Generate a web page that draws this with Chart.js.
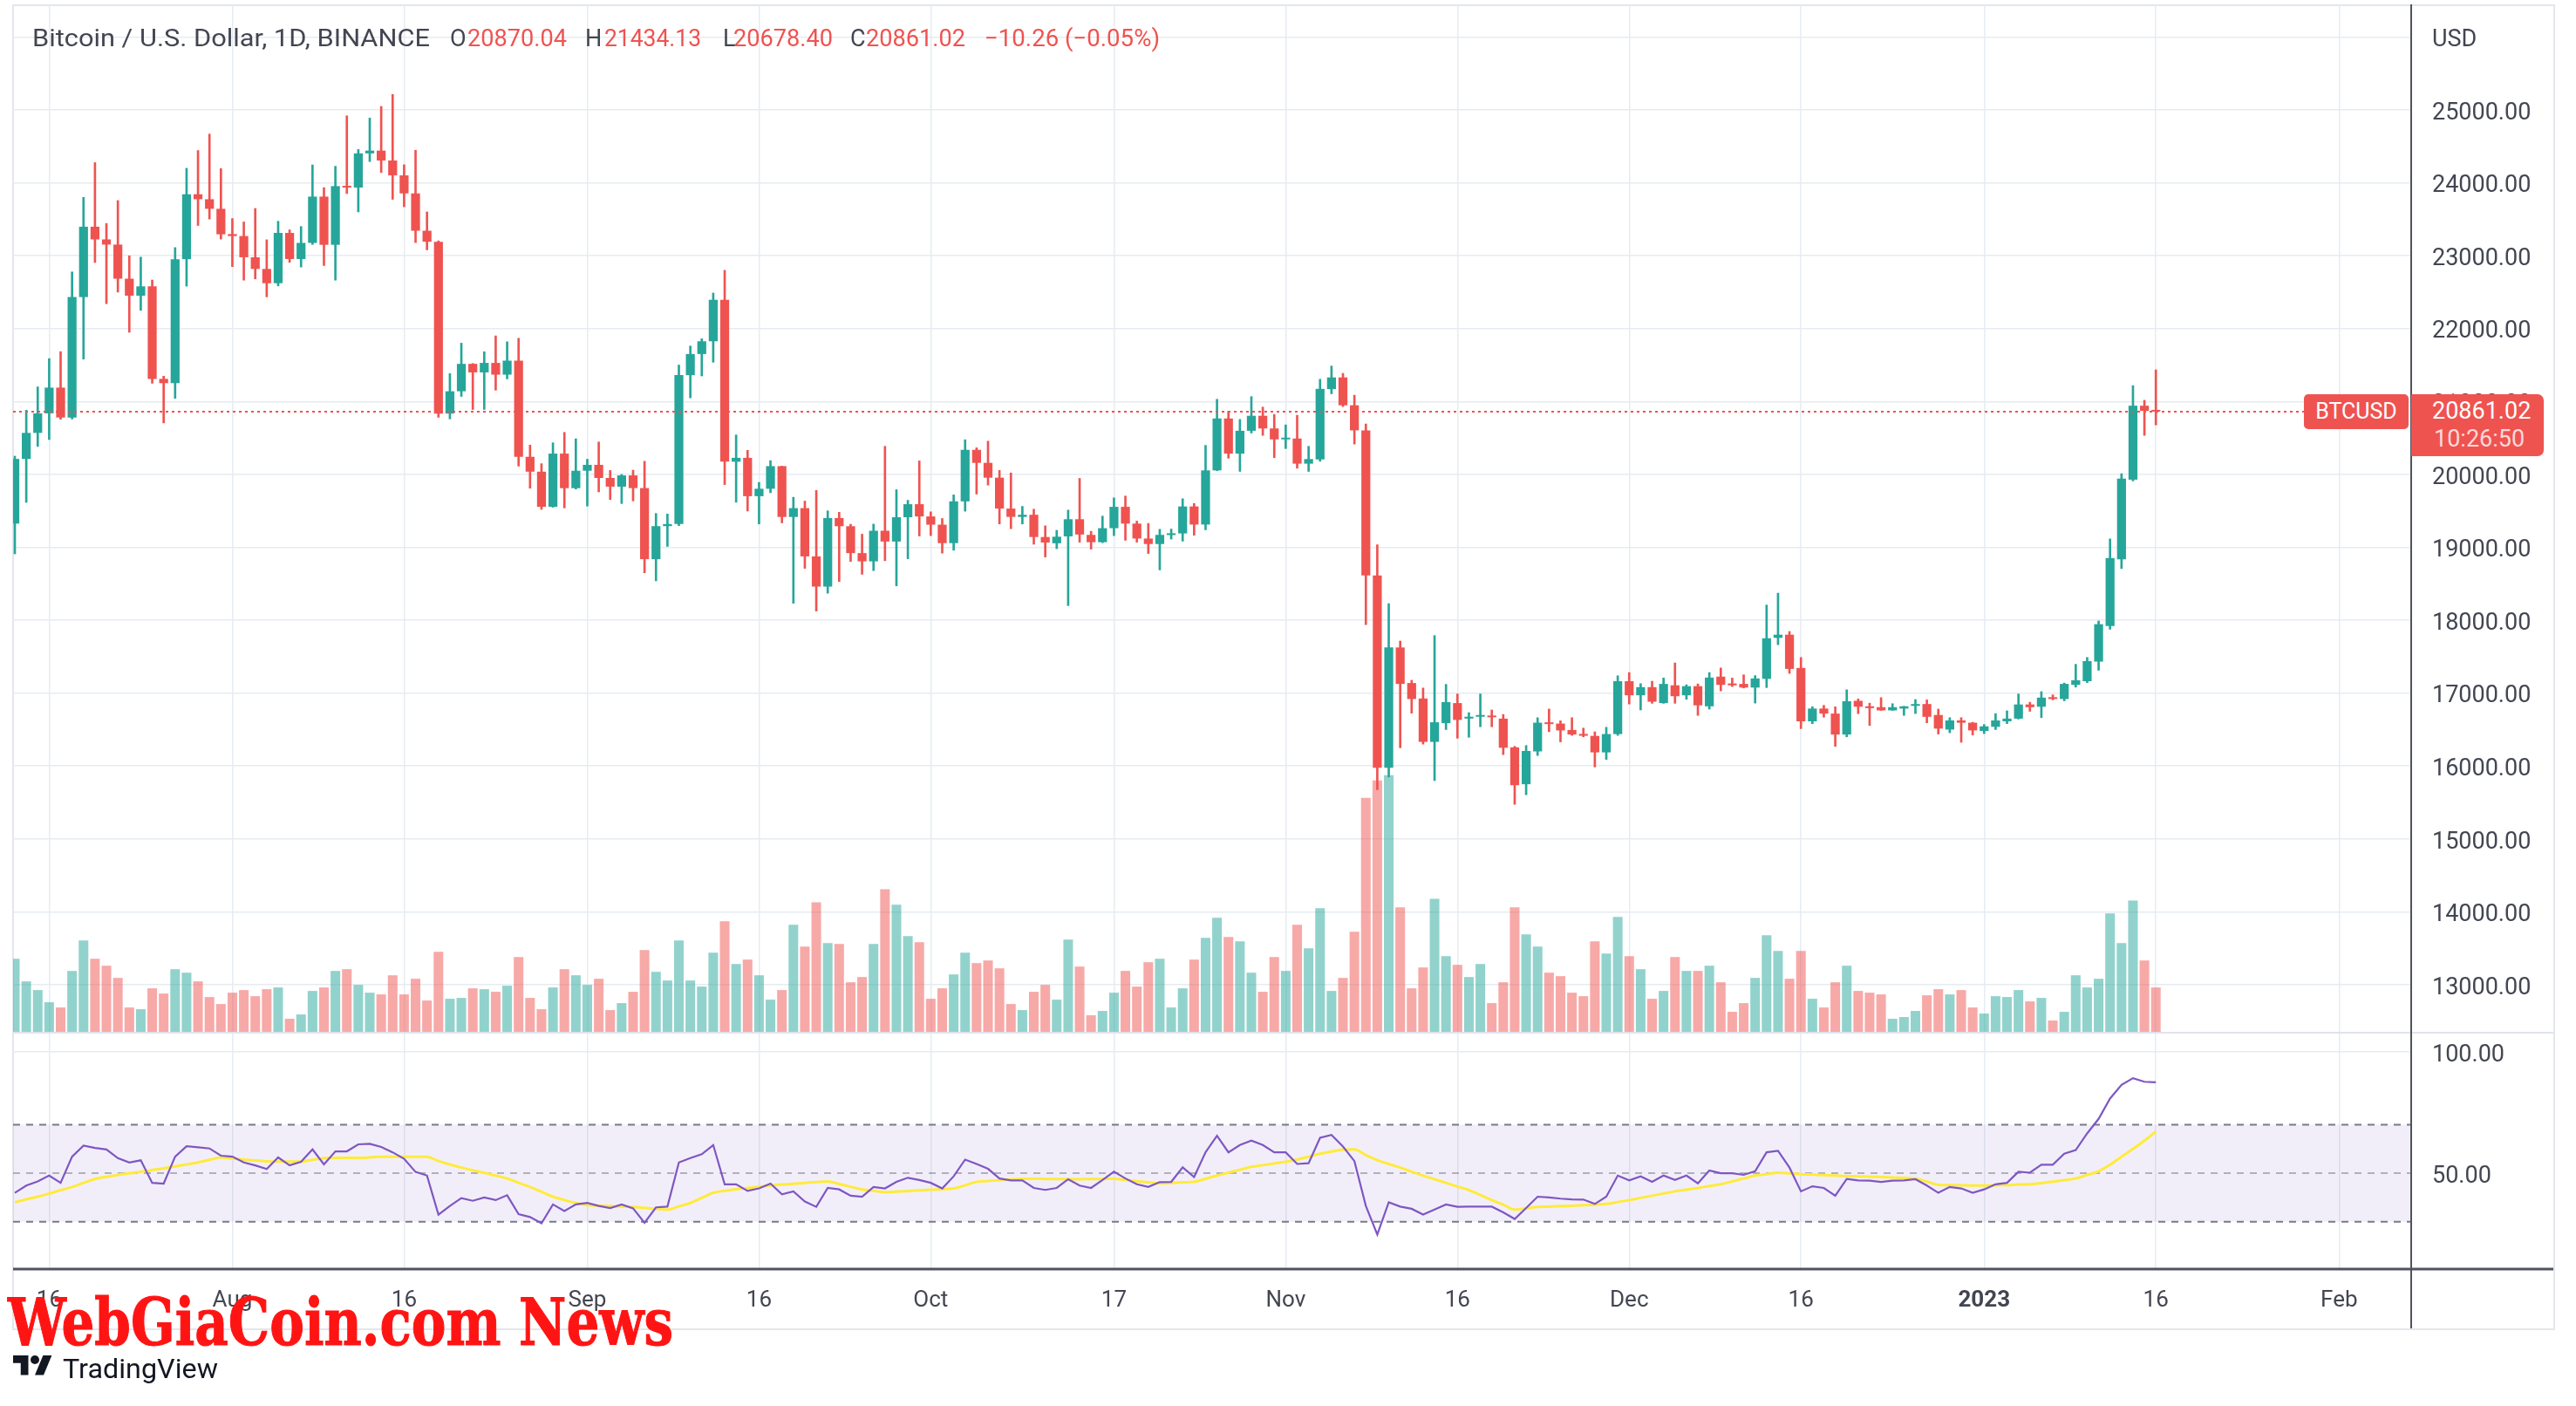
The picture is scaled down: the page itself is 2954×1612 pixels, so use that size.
<!DOCTYPE html>
<html>
<head>
<meta charset="utf-8">
<title>BTCUSD 1D</title>
<script src="https://cdn.jsdelivr.net/npm/chart.js@4.4.1/dist/chart.umd.min.js"></script>
<style>
  body { margin:0; width:2954px; height:1612px; background:#fff; position:relative; overflow:hidden; font-family:Roboto, "DejaVu Sans", sans-serif; }
  #frame { position:absolute; left:14px; top:5px; width:2912px; height:1516px; border:2px solid #e3e6ed; }
  canvas { position:absolute; left:0; }
  #priceCanvas { top:0; }
  #rsiCanvas { top:1183px; }
  .tl { position:absolute; top:31px; font-size:27px; line-height:27px; white-space:nowrap; color:#434651; transform-origin:left center; }
  .red { color:#ef5350; }
  #symTag { position:absolute; left:2642px; width:120px; height:40px; background:#ef5350; color:#fff; border-radius:5px; font-size:25px; line-height:40px; text-align:center; }
  #priceTag { position:absolute; left:2765px; width:152px; height:71px; background:#ef5350; border-radius:0 7px 7px 0; color:#fff; }
  #ptPrice { position:absolute; left:24px; top:3px; font-size:27px; line-height:32px; }
  #ptTime { position:absolute; left:26px; top:35px; font-size:27px; line-height:32px; color:rgba(255,255,255,0.78); }
  #wm { position:absolute; left:9px; top:1479px; font-family:"DejaVu Serif Condensed","DejaVu Serif",serif; font-weight:bold; font-size:74px; line-height:74px; color:#ff1414; -webkit-text-stroke:1px #ff1414; white-space:nowrap; transform-origin:left top; }
  #tvText { position:absolute; left:72px; top:1554px; font-size:31px; line-height:31px; color:#131722; white-space:nowrap; transform-origin:left top; }
</style>
</head>
<body>
<div id="frame"></div>
<canvas id="priceCanvas" width="2954" height="1183"></canvas>
<canvas id="rsiCanvas" width="2954" height="429"></canvas>

<span class="tl" id="tName" style="left:37px">Bitcoin / U.S. Dollar, 1D, BINANCE</span>
<span class="tl" style="left:516px">O</span><span class="tl red" id="vO" style="left:536px"></span>
<span class="tl" style="left:671px">H</span><span class="tl red" id="vH" style="left:693px"></span>
<span class="tl" style="left:829px">L</span><span class="tl red" id="vL" style="left:841px"></span>
<span class="tl" style="left:975px">C</span><span class="tl red" id="vC" style="left:993px"></span>
<span class="tl red" id="vChg" style="left:1129px"></span>

<div id="symTag">BTCUSD</div>
<div id="priceTag"><div id="ptPrice"></div><div id="ptTime">10:26:50</div></div>

<div id="wm">WebGiaCoin.com News</div>
<svg width="45" height="35" viewBox="0 0 36 28" style="position:absolute;left:15px;top:1549px">
  <path d="M14 22H7V11H0V4h14v18z" fill="#131722"/>
  <circle cx="20" cy="8" r="4" fill="#131722"/>
  <path d="M28 22h-8l7.5-18h8L28 22z" fill="#131722"/>
</svg>
<div id="tvText">TradingView</div>

<script>
// daily candles, Binance BTCUSD, index 0 = 2022-07-13
const startDate = '2022-07-13';

const open = [
  19325, 20212, 20569, 20837, 21190, 20780, 22432, 23397, 23223, 23152,
  22684, 22451, 22579, 21310, 21251, 22952, 23842, 23774, 23643, 23296,
  23269, 22978, 22818, 22622, 23312, 22954, 23175, 23810, 23149, 23954,
  23934, 24403, 24441, 24305, 24101, 23854, 23342, 23191, 20834, 21140,
  21516, 21399, 21529, 21368, 21560, 20241, 20037, 19555, 20285, 19811,
  20050, 20131, 19951, 19832, 19986, 19812, 18837, 19290, 19319, 21361,
  21651, 21826, 22395, 20174, 20227, 19701, 19803, 20113, 19416, 19537,
  18875, 18461, 19401, 19289, 18920, 18807, 19227, 19079, 19412, 19591,
  19423, 19310, 19057, 19630, 20337, 20158, 19955, 19531, 19417, 19446,
  19141, 19055, 19150, 19385, 19170, 19070, 19262, 19555, 19325, 19120,
  19045, 19168, 19190, 19560, 19312, 20055, 20767, 20285, 20598, 20804,
  20630, 20480, 20492, 20147, 20205, 21170, 21330, 20948, 20604, 18615,
  15975, 17626, 17138, 16926, 16331, 16588, 16863, 16651, 16676, 16690,
  16650, 16256, 15750, 16200, 16594, 16582, 16494, 16440, 16413, 16187,
  16438, 17163, 16970, 17082, 16863, 17107, 16970, 17095, 16819, 17226,
  17132, 17126, 17076, 17195, 17758, 17801, 17345, 16613, 16788, 16719,
  16432, 16894, 16819, 16807, 16763, 16788, 16825, 16850, 16700, 16500,
  16625, 16594, 16481, 16538, 16613, 16650, 16844, 16813, 16944, 16919,
  17113, 17163, 17432, 17920, 18834, 19928, 20942, 20870.04
];
const high = [
  20250, 20880, 21200, 21588, 21684, 22777, 23800, 24276, 23442, 23756,
  22998, 22980, 22666, 21347, 23111, 24199, 24442, 24668, 24194, 23509,
  23463, 23647, 23218, 23472, 23354, 23400, 24245, 23933, 24226, 24918,
  24456, 24888, 25047, 25211, 24247, 24446, 23600, 23203, 21382, 21800,
  21521, 21682, 21900, 21819, 21867, 20402, 20147, 20433, 20576, 20488,
  20208, 20444, 20054, 20000, 20058, 20180, 19464, 19457, 21500, 21760,
  21860, 22488, 22799, 20541, 20330, 19890, 20189, 20114, 19686, 19634,
  19780, 19500, 19480, 19316, 19180, 19318, 20385, 19790, 19645, 20185,
  19486, 19395, 19719, 20475, 20365, 20456, 20055, 20020, 19561, 19523,
  19294, 19233, 19510, 19945, 19220, 19428, 19678, 19703, 19360, 19328,
  19247, 19250, 19666, 19601, 20398, 21030, 20867, 20754, 21067, 20923,
  20823, 20679, 20811, 20385, 21305, 21486, 21386, 21086, 20692, 19034,
  18227, 17714, 17176, 17070, 17789, 17120, 16988, 16732, 16988, 16769,
  16707, 16270, 16281, 16663, 16782, 16620, 16663, 16520, 16469, 16531,
  17238, 17282, 17130, 17163, 17207, 17414, 17115, 17126, 17282, 17345,
  17207, 17251, 17240, 18208, 18371, 17845, 17489, 16812, 16832, 16812,
  17045, 16920, 16862, 16938, 16855, 16819, 16912, 16907, 16781, 16663,
  16663, 16600, 16569, 16719, 16757, 16988, 16875, 17020, 16976, 17138,
  17395, 17489, 17989, 19115, 20010, 21217, 21017, 21434.13
];
const low = [
  18910, 19616, 20383, 20478, 20755, 20760, 21581, 22906, 22341, 22500,
  21950, 22250, 21250, 20706, 21043, 22582, 23414, 23502, 23227, 22850,
  22664, 22681, 22435, 22586, 22909, 22844, 23154, 22865, 22664, 23852,
  23600, 24291, 24140, 23773, 23671, 23180, 23080, 20783, 20761, 21069,
  20890, 20891, 21155, 21310, 20114, 19810, 19520, 19550, 19540, 19800,
  19565, 19760, 19655, 19600, 19636, 18650, 18540, 19012, 19297, 21050,
  21350, 21538, 19860, 19618, 19497, 19320, 19748, 19335, 18232, 18711,
  18125, 18370, 18530, 18805, 18630, 18680, 18816, 18471, 18843, 19155,
  19160, 18920, 18960, 19495, 19730, 19853, 19320, 19255, 19320, 19042,
  18867, 18981, 18200, 19070, 18975, 19063, 19159, 19096, 19070, 18915,
  18690, 19112, 19084, 19165, 19240, 20050, 20222, 20041, 20567, 20535,
  20229, 20354, 20085, 20041, 20180, 21105, 20930, 20416, 17939, 15674,
  15850, 16250, 16725, 16300, 15800, 16500, 16381, 16394, 16538, 16538,
  16156, 15474, 15606, 16144, 16470, 16331, 16420, 16400, 15987, 16090,
  16420, 16850, 16769, 16860, 16860, 16860, 16915, 16694, 16780, 17030,
  17090, 17070, 16863, 17076, 17664, 17270, 16513, 16580, 16670, 16269,
  16400, 16718, 16556, 16763, 16763, 16694, 16719, 16593, 16438, 16456,
  16325, 16425, 16444, 16500, 16581, 16644, 16750, 16663, 16907, 16894,
  17082, 17144, 17313, 17876, 18708, 19910, 20535, 20678.40
];
const close = [
  20212, 20569, 20837, 21190, 20780, 22432, 23397, 23223, 23152, 22684,
  22451, 22579, 21310, 21251, 22952, 23842, 23774, 23643, 23293, 23269,
  22978, 22818, 22622, 23312, 22954, 23175, 23810, 23149, 23954, 23934,
  24403, 24441, 24305, 24101, 23854, 23342, 23191, 20834, 21140, 21516,
  21399, 21529, 21368, 21560, 20241, 20037, 19555, 20285, 19811, 20050,
  20131, 19951, 19832, 19986, 19812, 18837, 19290, 19319, 21361, 21651,
  21826, 22395, 20174, 20227, 19701, 19803, 20113, 19416, 19537, 18875,
  18461, 19401, 19289, 18920, 18807, 19227, 19079, 19412, 19591, 19423,
  19310, 19057, 19630, 20337, 20158, 19955, 19531, 19417, 19446, 19141,
  19065, 19145, 19385, 19175, 19070, 19262, 19555, 19325, 19120, 19045,
  19170, 19190, 19560, 19312, 20055, 20767, 20285, 20598, 20804, 20630,
  20480, 20492, 20147, 20210, 21173, 21330, 20948, 20604, 18615, 15975,
  17626, 17126, 16919, 16331, 16600, 16876, 16632, 16676, 16690, 16668,
  16250, 15737, 16206, 16594, 16575, 16488, 16432, 16415, 16187, 16438,
  17163, 16970, 17082, 16882, 17126, 16957, 17095, 16832, 17213, 17113,
  17107, 17076, 17201, 17752, 17801, 17332, 16613, 16788, 16719, 16432,
  16888, 16813, 16794, 16763, 16807, 16819, 16850, 16675, 16513, 16625,
  16594, 16488, 16544, 16625, 16650, 16844, 16807, 16938, 16919, 17126,
  17176, 17439, 17945, 18852, 19941, 20942, 20871.28, 20861.02
];
// volume, relative units
const volume = [
  84, 58, 48, 34, 28, 70, 105, 84, 76, 62,
  28, 26, 50, 44, 72, 68, 58, 40, 32, 45,
  48, 41, 49, 51, 15, 20, 47, 51, 70, 72,
  54, 45, 43, 65, 43, 61, 36, 92, 38, 39,
  50, 49, 46, 53, 86, 39, 26, 51, 72, 65,
  54, 61, 25, 33, 46, 94, 69, 59, 105, 59,
  52, 91, 127, 78, 83, 65, 37, 48, 123, 98,
  149, 102, 101, 57, 63, 101, 164, 146, 110, 103,
  38, 50, 66, 91, 79, 82, 73, 32, 25, 46,
  54, 37, 106, 75, 19, 24, 45, 70, 52, 80,
  84, 28, 50, 83, 108, 131, 109, 104, 68, 46,
  86, 70, 123, 96, 142, 47, 62, 115, 269, 289,
  295, 143, 50, 74, 153, 87, 77, 63, 78, 33,
  57, 143, 112, 98, 68, 64, 45, 41, 104, 90,
  132, 87, 72, 38, 47, 86, 70, 70, 76, 57,
  23, 33, 62, 111, 93, 61, 93, 38, 28, 57,
  76, 47, 45, 43, 15, 17, 24, 42, 49, 43,
  48, 28, 21, 41, 40, 48, 35, 39, 13, 23,
  65, 51, 61, 136, 102, 151, 82, 51
];
const rsi = [
  41.9, 44.9, 46.6, 49.0, 46.0, 56.8, 61.4, 60.4, 59.8, 56.2,
  54.4, 55.3, 46.0, 45.7, 56.8, 61.1, 60.7, 60.2, 57.2, 56.8,
  54.4, 53.2, 51.7, 56.5, 53.2, 54.7, 59.8, 53.6, 59.0, 59.0,
  61.9, 62.1, 60.8, 58.6, 55.9, 50.5, 49.0, 32.9, 36.5, 39.7,
  38.6, 40.0, 38.9, 40.9, 33.1, 31.9, 29.3, 37.1, 34.4, 37.1,
  37.7, 36.5, 35.6, 37.1, 35.5, 29.5, 35.9, 36.2, 54.4, 56.2,
  57.8, 61.6, 45.4, 45.4, 42.7, 43.7, 45.7, 41.3, 42.5, 38.3,
  36.1, 43.9, 43.3, 40.7, 40.3, 44.3, 43.7, 46.4, 48.1, 47.2,
  46.0, 43.7, 48.7, 55.6, 53.8, 51.8, 47.8, 47.0, 47.0, 43.9,
  43.1, 43.9, 47.5, 44.9, 43.9, 47.2, 50.6, 47.8, 45.4, 44.3,
  46.3, 46.4, 52.4, 48.4, 58.6, 65.4, 58.6, 61.6, 63.4, 61.6,
  58.6, 58.6, 53.8, 54.1, 64.6, 65.8, 61.0, 55.0, 36.5, 24.7,
  38.0, 36.2, 35.3, 32.9, 35.0, 37.1, 36.1, 36.2, 36.2, 36.2,
  33.8, 31.1, 35.6, 40.3, 40.0, 39.5, 39.2, 39.1, 37.3, 40.3,
  49.0, 47.0, 48.7, 46.4, 49.0, 47.2, 49.0, 45.8, 51.1, 50.0,
  50.0, 49.3, 50.8, 58.6, 59.2, 52.3, 42.5, 44.6, 43.9, 40.7,
  47.6, 47.0, 46.9, 46.4, 46.9, 47.0, 47.5, 44.9, 41.9, 44.3,
  43.7, 41.9, 43.3, 45.4, 46.0, 50.6, 50.2, 53.5, 53.5, 58.0,
  59.5, 66.4, 72.4, 80.8, 86.4, 89.2, 87.7, 87.5
];
const rsiMa = [
  38.0, 39.2, 40.3, 41.6, 43.0, 44.3, 46.0, 47.6, 48.5, 49.3,
  49.9, 50.6, 51.3, 52.0, 52.8, 53.6, 54.4, 55.5, 56.5, 56.0,
  55.6, 55.2, 54.9, 54.8, 54.8, 54.8, 55.5, 56.2, 56.3, 56.3,
  56.3, 56.5, 56.8, 56.8, 56.8, 56.8, 56.8, 55.0, 53.6, 52.3,
  51.2, 50.2, 49.0, 47.8, 46.0, 44.3, 42.3, 40.3, 38.9, 37.7,
  36.8, 36.6, 36.4, 36.2, 36.1, 35.7, 35.3, 35.0, 36.3, 37.7,
  39.8, 41.9, 42.7, 43.4, 43.9, 44.4, 44.9, 45.3, 45.6, 46.0,
  46.3, 46.6, 45.5, 44.4, 43.3, 42.7, 42.2, 42.4, 42.6, 42.9,
  43.2, 43.4, 43.7, 45.0, 46.4, 46.8, 47.1, 47.4, 47.7, 47.7,
  47.6, 47.6, 47.5, 47.5, 47.6, 47.6, 47.7, 47.2, 46.7, 46.2,
  45.8, 46.0, 46.2, 46.4, 47.7, 49.0, 50.2, 51.4, 52.6, 53.3,
  54.0, 54.7, 55.6, 56.8, 58.0, 58.9, 59.7, 59.8, 57.4, 55.4,
  53.8, 52.3, 50.6, 49.0, 47.5, 46.0, 44.5, 43.0, 41.0, 38.9,
  37.0, 35.0, 35.5, 36.1, 36.2, 36.4, 36.5, 36.8, 37.0, 37.3,
  38.1, 38.9, 39.8, 40.7, 41.6, 42.5, 43.2, 43.9, 44.7, 45.4,
  46.6, 47.8, 49.0, 49.6, 50.2, 49.9, 49.6, 49.4, 49.2, 49.0,
  48.8, 48.7, 48.6, 48.4, 48.2, 48.0, 47.8, 46.5, 45.2, 45.1,
  45.0, 44.9, 44.9, 45.0, 45.1, 45.3, 45.4, 45.9, 46.5, 47.1,
  47.8, 49.3, 50.8, 53.5, 56.8, 60.0, 63.4, 67.2
];

const tickDays = [3, 19, 34, 50, 65, 80, 96, 111, 126, 141, 156, 172, 187, 203];
const tickLabels = ['16', 'Aug', '16', 'Sep', '16', 'Oct', '17', 'Nov', '16', 'Dec', '16', '2023', '16', 'Feb'];
const priceTicks = [13000, 14000, 15000, 16000, 17000, 18000, 19000, 20000, 21000, 22000, 23000, 24000, 25000, 26000];
const rsiTicks = [50, 100];
const rsiLevels = [70, 50, 30];

const upColor = '#26a69a', downColor = '#ef5350';
const volUp = 'rgba(38,166,154,0.5)', volDown = 'rgba(239,83,80,0.5)';
const gridColor = '#e6ecf1';
const axisText = '#434651';
const axisLine = '#50535e';
const xMin = -0.152, xMax = 209.3;

const n = close.length;
const last = n - 1;
const up = close.map((c, i) => c >= open[i]);

function fixWidth(w) {
  return s => { s.width = w; s.paddingTop = 0; s.paddingBottom = 0; };
}
function dayTicks(s) { s.ticks = tickDays.map(v => ({ value: v })); }

// dotted last-price line
const lastPriceLine = {
  id: 'lastPriceLine',
  afterDatasetsDraw(chart) {
    const { ctx, chartArea, scales } = chart;
    const y = scales.y.getPixelForValue(close[last]);
    ctx.save();
    ctx.strokeStyle = downColor;
    ctx.lineWidth = 2;
    ctx.setLineDash([3, 4]);
    ctx.beginPath();
    ctx.moveTo(chartArea.left, y);
    ctx.lineTo(chartArea.right, y);
    ctx.stroke();
    ctx.restore();
  }
};

const priceChart = new Chart(document.getElementById('priceCanvas'), {
  type: 'bar',
  data: {
    datasets: [
      {
        label: 'Volume', yAxisID: 'yv', order: 3, grouped: false,
        data: volume.map((v, i) => ({ x: i, y: v })),
        backgroundColor: up.map(u => u ? volUp : volDown),
        barPercentage: 0.84, categoryPercentage: 1
      },
      {
        label: 'Wick', yAxisID: 'y', order: 2, grouped: false,
        data: high.map((h, i) => ({ x: i, y: [low[i], h] })),
        backgroundColor: up.map(u => u ? upColor : downColor),
        barThickness: 2
      },
      {
        label: 'Body', yAxisID: 'y', order: 1, grouped: false,
        data: open.map((o, i) => ({ x: i, y: [o, close[i]] })),
        backgroundColor: up.map(u => u ? upColor : downColor),
        barPercentage: 0.78, categoryPercentage: 1, minBarLength: 2
      }
    ]
  },
  options: {
    responsive: false, animation: false, events: [],
    layout: { padding: { left: 15, top: 6, right: 0, bottom: 0 } },
    plugins: { legend: { display: false }, tooltip: { enabled: false } },
    scales: {
      x: {
        type: 'linear', min: xMin, max: xMax, offset: false,
        afterBuildTicks: dayTicks,
        ticks: { display: false },
        grid: { offset: false, color: gridColor, lineWidth: 1.5, drawTicks: false },
        border: { display: false },
        afterFit: s => { s.height = 0; s.paddingLeft = 0; s.paddingRight = 0; }
      },
      y: {
        position: 'right', min: 12354, max: 26435,
        afterBuildTicks: s => { s.ticks = priceTicks.map(v => ({ value: v })); },
        ticks: {
          padding: 24, labelOffset: 4, color: axisText, font: { family: 'Roboto', size: 27 },
          callback: v => v === 26000 ? 'USD' : v.toFixed(2)
        },
        grid: { color: gridColor, lineWidth: 1.5, drawTicks: false },
        border: { display: true, color: axisLine, width: 2 },
        afterFit: fixWidth(189)
      },
      yv: { display: false, min: 0, max: Math.max(...volume) * 4 }
    }
  },
  plugins: [lastPriceLine]
});

// RSI band, levels, pane borders
const rsiDecor = {
  id: 'rsiDecor',
  beforeDatasetsDraw(chart) {
    const { ctx, chartArea: a, scales } = chart;
    const y70 = scales.y.getPixelForValue(rsiLevels[0]);
    const y30 = scales.y.getPixelForValue(rsiLevels[2]);
    ctx.save();
    ctx.fillStyle = 'rgba(126,87,194,0.1)';
    ctx.fillRect(a.left, y70, a.right - a.left, y30 - y70);
    ctx.lineWidth = 2;
    ctx.setLineDash([8, 7]);
    rsiLevels.forEach(l => {
      const y = scales.y.getPixelForValue(l);
      ctx.strokeStyle = l === 50 ? 'rgba(120,123,134,0.55)' : '#787b86';
      ctx.beginPath();
      ctx.moveTo(a.left, y);
      ctx.lineTo(a.right, y);
      ctx.stroke();
    });
    ctx.restore();
  },
  afterDraw(chart) {
    const { ctx, chartArea: a } = chart;
    ctx.save();
    ctx.strokeStyle = '#e0e3eb';
    ctx.lineWidth = 2;
    ctx.beginPath();
    ctx.moveTo(a.left, 1);
    ctx.lineTo(2928, 1);
    ctx.stroke();
    ctx.strokeStyle = axisLine;
    ctx.lineWidth = 3;
    ctx.beginPath();
    ctx.moveTo(a.left, a.bottom + 1);
    ctx.lineTo(2928, a.bottom + 1);
    ctx.stroke();
    ctx.lineWidth = 2;
    ctx.beginPath();
    ctx.moveTo(a.right, a.top);
    ctx.lineTo(a.right, 340);
    ctx.stroke();
    ctx.restore();
  }
};

const rsiChart = new Chart(document.getElementById('rsiCanvas'), {
  type: 'line',
  data: {
    datasets: [
      {
        label: 'RSI', order: 1,
        data: rsi.map((v, i) => ({ x: i, y: v })),
        borderColor: '#7e57c2', borderWidth: 2.2, pointRadius: 0, tension: 0
      },
      {
        label: 'RSI-based MA', order: 2,
        data: rsiMa.map((v, i) => ({ x: i, y: v })),
        borderColor: '#ffeb3b', borderWidth: 3, pointRadius: 0,
        cubicInterpolationMode: 'monotone'
      }
    ]
  },
  options: {
    responsive: false, animation: false, events: [],
    layout: { padding: { left: 15, top: 0, right: 0, bottom: 0 } },
    plugins: { legend: { display: false }, tooltip: { enabled: false } },
    scales: {
      x: {
        type: 'linear', min: xMin, max: xMax, offset: false,
        afterBuildTicks: dayTicks,
        ticks: {
          padding: 22, color: axisText, maxRotation: 0, autoSkip: false,
          font: c => ({ family: 'Roboto', size: 26,
            weight: c.tick && tickLabels[tickDays.indexOf(c.tick.value)] === '2023' ? 'bold' : 'normal' }),
          callback: v => tickLabels[tickDays.indexOf(v)]
        },
        grid: { offset: false, color: gridColor, lineWidth: 1.5, drawTicks: false },
        border: { display: false },
        afterFit: s => { s.height = 158; s.paddingLeft = 0; s.paddingRight = 0; }
      },
      y: {
        position: 'right', min: 10.8, max: 108.3,
        afterBuildTicks: s => { s.ticks = rsiTicks.map(v => ({ value: v })); },
        ticks: {
          padding: 24, labelOffset: 4, color: axisText, font: { family: 'Roboto', size: 27 },
          callback: v => v.toFixed(2)
        },
        grid: {
          color: c => (c.tick && c.tick.value === 100) ? gridColor : 'rgba(0,0,0,0)',
          lineWidth: 1.5, drawTicks: false
        },
        border: { display: true, color: axisLine, width: 2 },
        afterFit: fixWidth(189)
      }
    }
  },
  plugins: [rsiDecor]
});

// header values and tags
const fmt = v => v.toFixed(2);
const chg = close[last] - close[last - 1];
const sign = chg < 0 ? '\u2212' : '+';
document.getElementById('vO').textContent = fmt(open[last]);
document.getElementById('vH').textContent = fmt(high[last]);
document.getElementById('vL').textContent = fmt(low[last]);
document.getElementById('vC').textContent = fmt(close[last]);
document.getElementById('vChg').textContent =
  sign + fmt(Math.abs(chg)) + ' (' + sign + fmt(Math.abs(chg / close[last - 1] * 100)) + '%)';
document.getElementById('ptPrice').textContent = fmt(close[last]);

const yLast = priceChart.scales.y.getPixelForValue(close[last]);
document.getElementById('symTag').style.top = (yLast - 20) + 'px';
document.getElementById('priceTag').style.top = (yLast - 20) + 'px';

function fit(id, w) {
  const el = document.getElementById(id);
  el.style.transform = 'scaleX(' + (w / el.getBoundingClientRect().width) + ')';
}
fit('tName', 456);
fit('vO', 114);
fit('vH', 111);
fit('vL', 114);
fit('vC', 114);
fit('vChg', 201);
fit('wm', 763);
fit('tvText', 178);
</script>
</body>
</html>
